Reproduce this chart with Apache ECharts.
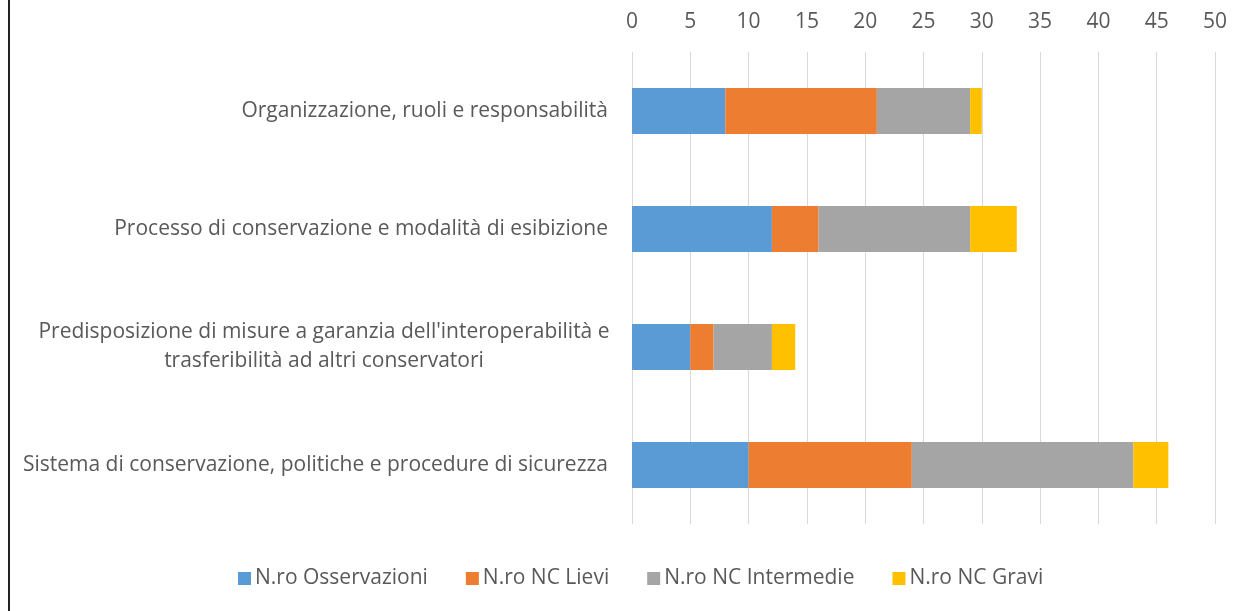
<!DOCTYPE html>
<html>
<head>
    <meta charset="utf-8">
    <title>Non conformità per area</title>
    <script type="text/javascript" src="https://cdn.jsdelivr.net/npm/echarts@6/dist/echarts.min.js"></script>
    <style>
        html, body { margin: 0; padding: 0; background: #fff; }
        #chart { width: 1253px; height: 611px; }
    </style>
</head>
<body>
    <div id="chart"></div>

    <script type="text/javascript">
       // categories, top to bottom
       var categories = [
           "Organizzazione, ruoli e responsabilità",
           "Processo di conservazione e modalità di esibizione",
           "Predisposizione di misure a garanzia dell'interoperabilità e\ntrasferibilità ad altri conservatori",
           "Sistema di conservazione, politiche e procedure di sicurezza"
       ];

       var seriesNames = ["N.ro Osservazioni", "N.ro NC Lievi", "N.ro NC Intermedie", "N.ro NC Gravi"];

       var osservazioni = [8, 12, 5, 10];
       var ncLievi      = [13, 4, 2, 14];
       var ncIntermedie = [8, 13, 5, 19];
       var ncGravi      = [1, 4, 2, 3];

       var colors = ["#5B9BD5", "#ED7D31", "#A5A5A5", "#FFC000"];
       var textColor = "#595959";
       var font = "Open Sans";
       var fs = 21;

       var myChart = echarts.init(document.getElementById('chart'));

       function makeSeries(name, data) {
           return {
               name: name,
               type: 'bar',
               stack: 'tot',
               data: data,
               barCategoryGap: '61%'
           };
       }

       myChart.setOption({
           animation: false,
           color: colors,
           textStyle: { fontFamily: font },
           graphic: [{
               type: 'line',
               shape: { x1: 9, y1: 0, x2: 9, y2: 611 },
               style: { stroke: '#222', lineWidth: 2 }
           }],
           grid: { left: 632, right: 38, top: 52, bottom: 87 },
           legend: {
               bottom: 17,
               left: 233,
               itemWidth: 13,
               itemHeight: 13,
               itemGap: 38,
               icon: 'rect',
               textStyle: { color: textColor, fontSize: fs, fontFamily: font, padding: [0, 0, 0, -1] },
               data: seriesNames
           },
           xAxis: {
               type: 'value',
               position: 'top',
               min: 0,
               max: 50,
               interval: 5,
               axisLine: { show: false },
               axisTick: { show: false },
               axisLabel: { color: textColor, fontSize: fs, margin: 19 },
               splitLine: { lineStyle: { color: '#D9D9D9', width: 1 } }
           },
           yAxis: {
               type: 'category',
               inverse: true,
               data: categories,
               axisLine: { show: false },
               axisTick: { show: false },
               axisLabel: {
                   color: textColor,
                   fontSize: fs,
                   margin: 24,
                   lineHeight: 29,
                   formatter: function (v) {
                       if (v.indexOf('\n') < 0) return v;
                       return v.split('\n').map(function (l) { return '{c|' + l + '}'; }).join('\n');
                   },
                   rich: {
                       c: { width: 568, align: 'center', color: textColor, fontSize: fs, lineHeight: 29, fontFamily: font }
                   }
               }
           },
           series: [
               makeSeries(seriesNames[0], osservazioni),
               makeSeries(seriesNames[1], ncLievi),
               makeSeries(seriesNames[2], ncIntermedie),
               makeSeries(seriesNames[3], ncGravi)
           ]
       });
    </script>
</body>
</html>
